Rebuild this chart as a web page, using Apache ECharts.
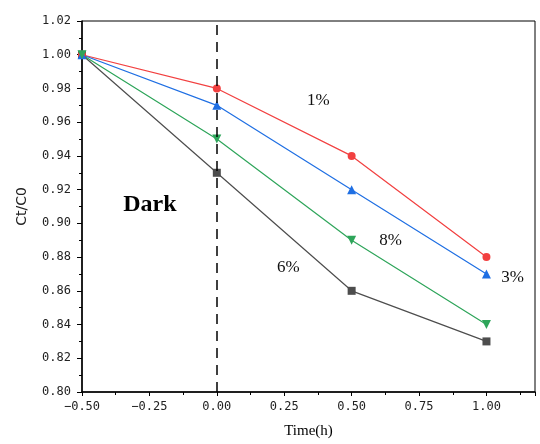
<!DOCTYPE html>
<html><head><meta charset="utf-8">
<script src="https://cdn.jsdelivr.net/npm/echarts@6/dist/echarts.min.js"></script>
<style>html,body{margin:0;padding:0;background:#fff}#c{width:540px;height:444px}</style>
</head><body><div id="c"></div>
<script>
var times = [-0.5, 0, 0.5, 1.0];
var s1 = [1.00, 0.98, 0.94, 0.88];   // 1%
var s3 = [1.00, 0.97, 0.92, 0.87];   // 3%
var s8 = [1.00, 0.95, 0.89, 0.84];   // 8%
var s6 = [1.00, 0.93, 0.86, 0.83];   // 6%
var seriesNames = ['6%', '1%', '3%', '8%'];
var annotations = [
  {text: '1%', x: 0.376, y: 0.973},
  {text: '8%', x: 0.644, y: 0.890},
  {text: '3%', x: 1.097, y: 0.868},
  {text: '6%', x: 0.265, y: 0.874}
];
var darkLabel = {text: 'Dark', x: -0.248, y: 0.911};

function pts(vals){ return times.map(function(t,i){ return [t, vals[i]]; }); }

var chart = echarts.init(document.getElementById('c'));
var labelFont = {fontFamily: 'DejaVu Sans Mono', fontSize: 12, color: '#222'};
function mk(name, vals, color, symbol, size, rot){
  return {
    name: name, type: 'line', data: pts(vals), symbol: symbol, symbolSize: size,
    symbolRotate: rot || 0,
    lineStyle: {color: color, width: 1.2}, itemStyle: {color: color}, z: 3
  };
}
var option = {
  animation: false,
  grid: {left: 82, right: 5, top: 21, bottom: 52, show: true, borderColor: '#000', borderWidth: 1},
  xAxis: {
    type: 'value', min: -0.5, max: 1.18, interval: 0.25,
    name: 'Time(h)', nameLocation: 'middle', nameGap: 32,
    nameTextStyle: {fontFamily: 'Liberation Serif', fontSize: 15, color: '#000'},
    axisLine: {onZero: false, lineStyle: {color: '#000', width: 1.5}},
    axisTick: {inside: false, length: 4, lineStyle: {color: '#000'}},
    minorTick: {show: true, splitNumber: 2, length: 3, lineStyle: {color: '#000'}},
    splitLine: {show: false},
    axisLabel: Object.assign({margin: 9, showMaxLabel: true, formatter: function(v){
      var r = Math.round(v*100)/100;
      if (Math.abs(r/0.25 - Math.round(r/0.25)) > 1e-6 || r > 1.01) return '';
      return (r < 0 ? '\u2212' : '') + Math.abs(r).toFixed(2);
    }}, labelFont)
  },
  yAxis: {
    type: 'value', min: 0.80, max: 1.02, interval: 0.02,
    name: 'Ct/C0', nameLocation: 'middle', nameGap: 53,
    nameTextStyle: {fontFamily: 'DejaVu Sans', fontSize: 14, color: '#222'},
    axisLine: {show: true, onZero: false, lineStyle: {color: '#000', width: 1.5}},
    axisTick: {show: true, inside: false, length: 5, lineStyle: {color: '#000'}},
    minorTick: {show: true, splitNumber: 2, length: 3, lineStyle: {color: '#000'}},
    splitLine: {show: false},
    axisLabel: Object.assign({margin: 11, formatter: function(v){ return v.toFixed(2); }}, labelFont)
  },
  series: [
    mk(seriesNames[0], s6, '#4d4d4d', 'rect', 8),
    mk(seriesNames[1], s1, '#f24040', 'circle', 8),
    mk(seriesNames[2], s3, '#1f6fe3', 'triangle', 9),
    Object.assign(mk(seriesNames[3], s8, '#2ea55a', 'triangle', 9, 180), {
      markLine: {
        silent: true, symbol: 'none', label: {show: false},
        lineStyle: {color: '#000', type: [10, 7], width: 1.5},
        data: [{xAxis: 0}]
      }
    })
  ]
};
chart.setOption(option);
var g = annotations.map(function(a){
  var p = chart.convertToPixel({gridIndex: 0}, [a.x, a.y]);
  return {type: 'text', x: p[0], y: p[1], z: 10, style: {text: a.text, fill: '#111',
    font: '17px "Liberation Serif"', align: 'center', verticalAlign: 'middle'}};
});
var dp = chart.convertToPixel({gridIndex: 0}, [darkLabel.x, darkLabel.y]);
g.push({type: 'text', x: dp[0], y: dp[1], z: 10, style: {text: darkLabel.text, fill: '#000',
  font: 'bold 24px "Liberation Serif"', align: 'center', verticalAlign: 'middle'}});
chart.setOption({graphic: g});
</script>
</body></html>
